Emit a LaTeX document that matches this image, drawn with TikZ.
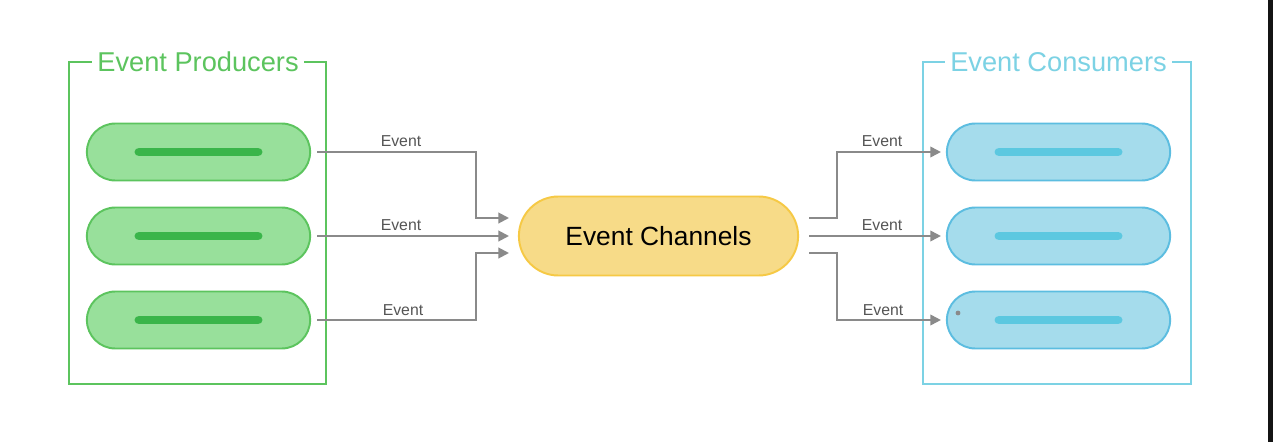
\documentclass[tikz,border=0pt]{standalone}
\usepackage{fontspec}
\setmainfont{Liberation Sans}
\usetikzlibrary{arrows.meta,calc}
\usetikzlibrary{shapes.misc}

\definecolor{prodline}{HTML}{5CC45E}
\definecolor{prodfill}{HTML}{98E09B}
\definecolor{prodbar}{HTML}{3AB54A}
\definecolor{consline}{HTML}{7CD2E4}
\definecolor{consfill}{HTML}{A5DCEC}
\definecolor{consedge}{HTML}{5CBDE0}
\definecolor{consbar}{HTML}{5CC8E0}
\definecolor{chanfill}{HTML}{F7DB88}
\definecolor{chanedge}{HTML}{F6C945}
\definecolor{flowgray}{HTML}{8A8A8A}
\definecolor{labelgray}{HTML}{555555}

\tikzset{
  prodpill/.style={rounded rectangle, draw=prodline, fill=prodfill, line width=1.1pt,
    minimum width=4.70cm, minimum height=1.14cm},
  conspill/.style={rounded rectangle, draw=consedge, fill=consfill, line width=1.1pt,
    minimum width=4.70cm, minimum height=1.14cm},
  chanpill/.style={rounded rectangle, draw=chanedge, fill=chanfill, line width=1.1pt,
    minimum width=5.82cm, minimum height=1.58cm, font=\fontsize{15}{18}\selectfont},
  pbar/.style={draw=prodbar, line width=5.1pt, line cap=round},
  cbar/.style={draw=consbar, line width=5.1pt, line cap=round},
  frame/.style={line width=1.1pt},
  head/.style={fill=white, inner xsep=3pt, inner ysep=1pt, font=\fontsize{15.5}{18}\selectfont},
  evlabel/.style={text=labelgray, inner sep=0pt, font=\fontsize{9}{11}\selectfont},
  flow/.style={draw=flowgray, line width=1.1pt, -{Triangle[length=6pt,width=6pt]}}
}

\begin{document}
\begin{tikzpicture}[x=0.02cm, y=-0.02cm]
  \useasboundingbox (0,0) rectangle (1273,442);
  \fill [white] (0,0) rectangle (1273,442);
  \fill [black!92] (1268,0) rectangle (1273,442);

  % producers
  \draw [frame, prodline] (69,62) rectangle (326,384);
  \node [head, text=prodline] (prodtitle) at (198,62) {Event Producers};
  \node [prodpill] (p1) at (198.5,152) {};
  \node [prodpill] (p2) at (198.5,236) {};
  \node [prodpill] (p3) at (198.5,320) {};
  \draw [pbar] ($(p1)+(-59.5,0)$) -- ($(p1)+(59.5,0)$);
  \draw [pbar] ($(p2)+(-59.5,0)$) -- ($(p2)+(59.5,0)$);
  \draw [pbar] ($(p3)+(-59.5,0)$) -- ($(p3)+(59.5,0)$);

  % consumers
  \draw [frame, consline] (923,62) rectangle (1191,384);
  \node [head, text=consline] (constitle) at (1058.5,62) {Event Consumers};
  \node [conspill] (c1) at (1058.5,152) {};
  \node [conspill] (c2) at (1058.5,236) {};
  \node [conspill] (c3) at (1058.5,320) {};
  \draw [cbar] ($(c1)+(-59.5,0)$) -- ($(c1)+(59.5,0)$);
  \draw [cbar] ($(c2)+(-59.5,0)$) -- ($(c2)+(59.5,0)$);
  \draw [cbar] ($(c3)+(-59.5,0)$) -- ($(c3)+(59.5,0)$);
  \fill [flowgray] (958,313) circle (2.4);

  % channel
  \node [chanpill] (ch) at (658.5,236) {Event Channels};
  \coordinate (in1) at (509,218);
  \coordinate (in2) at (509,236);
  \coordinate (in3) at (509,253);
  \coordinate (out1) at (809,218);
  \coordinate (out2) at (809,236);
  \coordinate (out3) at (809,253);

  % events in
  \draw [flow, shorten <=0.12cm] (p1.east) -- ++(165,0) |- (in1);
  \draw [flow, shorten <=0.12cm] (p2.east) -- (in2);
  \draw [flow, shorten <=0.12cm] (p3.east) -- ++(165,0) |- (in3);
  \node [evlabel] (ev1) at (401,141) {Event};
  \node [evlabel] (ev2) at (401,225) {Event};
  \node [evlabel] (ev3) at (403,310) {Event};

  % events out
  \draw [flow, shorten >=0.1cm] (out1) -- ++(28,0) |- (c1.west);
  \draw [flow, shorten >=0.1cm] (out2) -- (c2.west);
  \draw [flow, shorten >=0.1cm] (out3) -- ++(28,0) |- (c3.west);
  \node [evlabel] (ev4) at (882,141) {Event};
  \node [evlabel] (ev5) at (882,225) {Event};
  \node [evlabel] (ev6) at (883,310) {Event};
\end{tikzpicture}
\end{document}
